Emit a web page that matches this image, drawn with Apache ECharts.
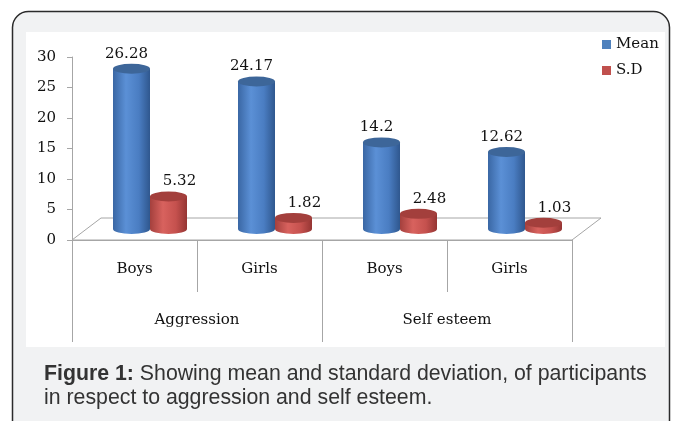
<!DOCTYPE html>
<html><head><meta charset="utf-8">
<script src="https://cdn.jsdelivr.net/npm/echarts@6/dist/echarts.min.js"></script>
<style>html,body{margin:0;padding:0;background:#fff}#c{width:673px;height:421px}</style>
</head><body><div id="c"></div>
<script>
// ---- data ----
const categories = ['Boys', 'Girls', 'Boys', 'Girls'];
const groups = ['Aggression', 'Self esteem'];
const seriesNames = ['Mean', 'S.D'];
const meanValues = [26.28, 24.17, 14.2, 12.62];
const sdValues = [5.32, 1.82, 2.48, 1.03];
const yMin = 0, yMax = 30, yInterval = 5;
const captionBold = 'Figure 1:';
const captionRest = ' Showing mean and standard deviation, of participants\nin respect to aggression and self esteem.';

// ---- style ----
const SERIF = '"DejaVu Serif", serif';
const SANS = '"Liberation Sans", Arial, sans-serif';
const DX = 29, DY = -22;
const blue = { main: '#4F81BD', stops: ['#3a67a4', '#5b90d6', '#4a7dc2', '#2f578e'], top: '#3d6699' };
const red = { main: '#C0504D', stops: ['#a4403d', '#d8625e', '#c5514e', '#953533'], top: '#a33f3c' };

function cylinder(idx, col) {
  return function (params, api) {
    const i = api.value(0), v = api.value(1);
    const b = api.coord([i, 0]), t = api.coord([i, v]);
    const band = api.size([1, 0])[0];
    const w = band * 0.296;
    const cx = b[0] + DX / 2 + 1 + (idx === 0 ? -w / 2 : w / 2);
    const yb = b[1] + DY / 2, yt = t[1] + DY / 2;
    const rx = w / 2, ry = 5;
    const x0 = cx - rx, x1 = cx + rx;
    const body = 'M' + x0 + ',' + yt + ' L' + x0 + ',' + yb + ' A' + rx + ',' + ry + ' 0 0 0 ' + x1 + ',' + yb + ' L' + x1 + ',' + yt + ' Z';
    const topP = 'M' + x0 + ',' + yt + ' A' + rx + ',' + ry + ' 0 0 0 ' + x1 + ',' + yt + ' A' + rx + ',' + ry + ' 0 0 0 ' + x0 + ',' + yt + ' Z';
    return {
      type: 'group',
      children: [
        { type: 'path', shape: { pathData: body }, style: { fill: { type: 'linear', x: 0, y: 0, x2: 1, y2: 0, colorStops: [
          { offset: 0, color: col.stops[0] }, { offset: 0.35, color: col.stops[1] }, { offset: 0.7, color: col.stops[2] }, { offset: 1, color: col.stops[3] }] } } },
        { type: 'path', shape: { pathData: topP }, style: { fill: col.top } },
        { type: 'text', style: { text: String(v), x: cx + (idx === 0 ? -5 : 11), y: yt - 15,
          align: 'center', verticalAlign: 'middle', textAlign: 'center', textVerticalAlign: 'middle',
          font: '15px ' + SERIF, fill: '#111' } }
      ]
    };
  };
}

function floor(params, api) {
  const cs = params.coordSys;
  const x = cs.x, y = cs.y + cs.height, w = cs.width;
  return {
    type: 'polygon',
    shape: { points: [[x, y], [x + w, y], [x + w + DX, y + DY], [x + DX, y + DY]] },
    style: { fill: '#fff', stroke: '#a6a6a6', lineWidth: 1 },
    silent: true
  };
}

const chart = echarts.init(document.getElementById('c'), null, { renderer: 'canvas' });
chart.setOption({
  backgroundColor: '#fff',
  animation: false,
  graphic: [
    { type: 'rect', z: -10, shape: { x: 12.5, y: 11.5, width: 657, height: 440, r: 16 }, style: { fill: '#f1f2f3', stroke: '#2b2b2b', lineWidth: 1.5 } },
    { type: 'rect', z: -9, shape: { x: 26, y: 32, width: 639, height: 315 }, style: { fill: '#fff' } },
    { type: 'text', z: 10, left: 44, top: 362, style: {
      text: '{b|' + captionBold + '}' + captionRest,
      font: '21.3px ' + SANS, fill: '#333', lineHeight: 24,
      rich: { b: { fontWeight: 'bold', fontSize: 21.3, fontFamily: SANS, fill: '#333', lineHeight: 24 } }
    } }
  ],
  legend: {
    orient: 'vertical', left: 602, top: 37, padding: 0, itemWidth: 9, itemHeight: 9, itemGap: 11,
    icon: 'rect', textStyle: { fontFamily: SERIF, fontSize: 15, color: '#111' },
    data: seriesNames
  },
  grid: { left: 72, right: 101, top: 57, bottom: 181, containLabel: false },
  xAxis: [
    { type: 'category', data: categories, position: 'bottom',
      axisLine: { show: true, lineStyle: { color: '#a6a6a6' } },
      axisTick: { show: true, length: 52, interval: 0, lineStyle: { color: '#a6a6a6' } },
      axisLabel: { margin: 22, interval: 0, fontFamily: SERIF, fontSize: 15, color: '#111' } },
    { type: 'category', data: groups, position: 'bottom',
      axisLine: { show: false },
      axisTick: { show: true, length: 102, interval: 0, lineStyle: { color: '#a6a6a6' } },
      axisLabel: { margin: 73, interval: 0, fontFamily: SERIF, fontSize: 15, color: '#111' } }
  ],
  yAxis: { type: 'value', min: yMin, max: yMax, interval: yInterval,
    axisLine: { show: true, lineStyle: { color: '#a6a6a6' } },
    axisTick: { show: true, length: 5, lineStyle: { color: '#a6a6a6' } },
    splitLine: { show: false },
    axisLabel: { margin: 16, fontFamily: SERIF, fontSize: 15, color: '#111' } },
  series: [
    { type: 'custom', name: 'floor', renderItem: floor, data: [[0, 0]], z: 1, silent: true, legendHoverLink: false },
    { type: 'custom', name: seriesNames[0], renderItem: cylinder(0, blue), itemStyle: { color: blue.main }, z: 3,
      data: meanValues.map((v, i) => [i, v]), encode: { x: 0, y: 1 } },
    { type: 'custom', name: seriesNames[1], renderItem: cylinder(1, red), itemStyle: { color: red.main }, z: 4,
      data: sdValues.map((v, i) => [i, v]), encode: { x: 0, y: 1 } }
  ]
});
</script></body></html>
